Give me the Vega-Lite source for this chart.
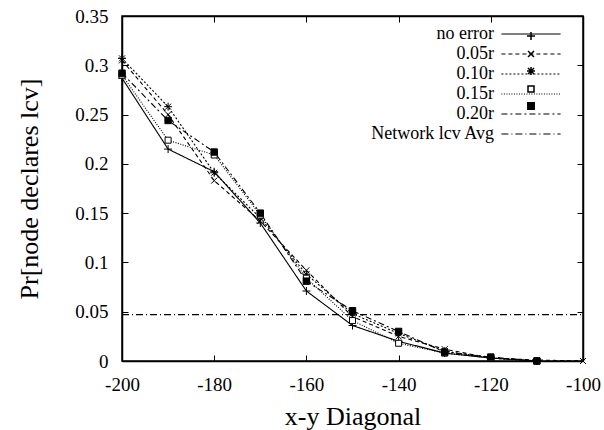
{
  "$schema": "https://vega.github.io/schema/vega-lite/v6.json",
  "width": 461,
  "height": 345,
  "autosize": {"type": "none"},
  "padding": {"left": 122, "top": 16, "right": 21, "bottom": 69},
  "background": "white",
  "config": {
    "view": {"stroke": "black", "strokeWidth": 1.5},
    "font": "Liberation Serif, Times New Roman, Times, serif",
    "axis": {
      "grid": false,
      "domainColor": "black",
      "domainWidth": 1.5,
      "tickColor": "black",
      "tickWidth": 1,
      "labelColor": "black",
      "labelFont": "Liberation Serif, Times New Roman, Times, serif",
      "labelFontSize": 19,
      "labelFlush": false,
      "titleFont": "Liberation Serif, Times New Roman, Times, serif",
      "titleFontSize": 26,
      "titleFontWeight": "normal",
      "titleColor": "black"
    }
  },
  "data": {
    "values": [
      {"x": -200, "y": 0.287, "s": "no error"},
      {"x": -190, "y": 0.215, "s": "no error"},
      {"x": -180, "y": 0.192, "s": "no error"},
      {"x": -170, "y": 0.140, "s": "no error"},
      {"x": -160, "y": 0.071, "s": "no error"},
      {"x": -150, "y": 0.036, "s": "no error"},
      {"x": -140, "y": 0.020, "s": "no error"},
      {"x": -130, "y": 0.008, "s": "no error"},
      {"x": -120, "y": 0.003, "s": "no error"},
      {"x": -110, "y": 0.000, "s": "no error"},
      {"x": -200, "y": 0.305, "s": "0.05r"},
      {"x": -190, "y": 0.250, "s": "0.05r"},
      {"x": -180, "y": 0.183, "s": "0.05r"},
      {"x": -170, "y": 0.142, "s": "0.05r"},
      {"x": -160, "y": 0.092, "s": "0.05r"},
      {"x": -150, "y": 0.045, "s": "0.05r"},
      {"x": -140, "y": 0.025, "s": "0.05r"},
      {"x": -130, "y": 0.012, "s": "0.05r"},
      {"x": -120, "y": 0.003, "s": "0.05r"},
      {"x": -110, "y": 0.001, "s": "0.05r"},
      {"x": -100, "y": 0.000, "s": "0.05r"},
      {"x": -200, "y": 0.307, "s": "0.10r"},
      {"x": -190, "y": 0.258, "s": "0.10r"},
      {"x": -180, "y": 0.191, "s": "0.10r"},
      {"x": -170, "y": 0.145, "s": "0.10r"},
      {"x": -160, "y": 0.088, "s": "0.10r"},
      {"x": -150, "y": 0.048, "s": "0.10r"},
      {"x": -140, "y": 0.028, "s": "0.10r"},
      {"x": -130, "y": 0.010, "s": "0.10r"},
      {"x": -120, "y": 0.003, "s": "0.10r"},
      {"x": -110, "y": 0.000, "s": "0.10r"},
      {"x": -200, "y": 0.290, "s": "0.15r"},
      {"x": -190, "y": 0.224, "s": "0.15r"},
      {"x": -180, "y": 0.209, "s": "0.15r"},
      {"x": -170, "y": 0.148, "s": "0.15r"},
      {"x": -160, "y": 0.084, "s": "0.15r"},
      {"x": -150, "y": 0.041, "s": "0.15r"},
      {"x": -140, "y": 0.018, "s": "0.15r"},
      {"x": -130, "y": 0.008, "s": "0.15r"},
      {"x": -120, "y": 0.003, "s": "0.15r"},
      {"x": -110, "y": 0.000, "s": "0.15r"},
      {"x": -200, "y": 0.292, "s": "0.20r"},
      {"x": -190, "y": 0.244, "s": "0.20r"},
      {"x": -180, "y": 0.212, "s": "0.20r"},
      {"x": -170, "y": 0.150, "s": "0.20r"},
      {"x": -160, "y": 0.081, "s": "0.20r"},
      {"x": -150, "y": 0.051, "s": "0.20r"},
      {"x": -140, "y": 0.030, "s": "0.20r"},
      {"x": -130, "y": 0.009, "s": "0.20r"},
      {"x": -120, "y": 0.004, "s": "0.20r"},
      {"x": -110, "y": 0.000, "s": "0.20r"},
      {"x": -200, "y": 0.047, "s": "Network lcv Avg"},
      {"x": -100, "y": 0.047, "s": "Network lcv Avg"}
    ]
  },
  "resolve": {"axis": {"x": "independent", "y": "independent"}},
  "layer": [
    {
      "mark": {"type": "line", "color": "black", "strokeWidth": 1.1},
      "encoding": {
        "x": {
          "field": "x", "type": "quantitative",
          "scale": {"domain": [-200, -100], "nice": false},
          "axis": {"values": [-200, -180, -160, -140, -120, -100], "labelExpr": "'' + datum.value", "title": "x-y Diagonal", "tickSize": -6, "labelPadding": 20, "titlePadding": 9}
        },
        "y": {
          "field": "y", "type": "quantitative",
          "scale": {"domain": [0, 0.35], "nice": false, "zero": false},
          "axis": {"values": [0, 0.05, 0.1, 0.15, 0.2, 0.25, 0.3, 0.35], "format": ".2~f", "title": "Pr[node declares lcv]", "tickSize": -6, "labelPadding": 20, "titlePadding": 32}
        },
        "detail": {"field": "s"},
        "strokeDash": {
          "field": "s", "type": "nominal",
          "scale": {
            "domain": ["no error", "0.05r", "0.10r", "0.15r", "0.20r", "Network lcv Avg"],
            "range": [[1, 0], [4, 3], [2, 2], [1, 1.5], [6, 3, 2, 3], [7, 3, 1, 3]]
          },
          "legend": {
            "orient": "none", "legendX": 400, "legendY": 9, "title": null,
            "symbolType": "M-3.7,0H3.7", "symbolSize": 256,
            "symbolStrokeColor": "black", "symbolStrokeWidth": 1.1,
            "labelAlign": "right", "labelOffset": -46,
            "labelFont": "Liberation Serif, Times New Roman, Times, serif", "labelFontSize": 18, "labelColor": "black",
            "rowPadding": 2, "padding": 0
          }
        }
      }
    },
    {
      "transform": [{"filter": "datum.s != 'Network lcv Avg'"}],
      "mark": {"type": "point", "stroke": "black", "strokeWidth": 1, "size": 400, "opacity": 1},
      "encoding": {
        "x": {
          "field": "x", "type": "quantitative",
          "axis": {"orient": "top", "values": [-200, -180, -160, -140, -120, -100], "labels": false, "title": null, "tickSize": -6}
        },
        "y": {
          "field": "y", "type": "quantitative",
          "axis": {"orient": "right", "values": [0, 0.05, 0.1, 0.15, 0.2, 0.25, 0.3, 0.35], "labels": false, "title": null, "tickSize": -6}
        },
        "shape": {
          "field": "s", "type": "nominal",
          "scale": {
            "domain": ["no error", "0.05r", "0.10r", "0.15r", "0.20r"],
            "range": ["M-0.4,0H0.4M0,-0.4V0.4", "M-0.3,-0.3L0.3,0.3M-0.3,0.3L0.3,-0.3", "M-0.4,0H0.4M0,-0.4V0.4M-0.3,-0.3L0.3,0.3M-0.3,0.3L0.3,-0.3", "M-0.3,-0.3H0.3V0.3H-0.3Z", "M-0.32,-0.32H0.32V0.32H-0.32Z"]
          },
          "legend": {
            "orient": "none", "legendX": 398, "legendY": 9, "title": null,
            "symbolSize": 400, "labelExpr": "''",
            "rowPadding": 0, "padding": 0,
            "encode": {"symbols": {"update": {"stroke": {"value": "black"}, "strokeWidth": {"value": 1}, "opacity": {"value": 1}}}}
          }
        },
        "fill": {
          "field": "s", "type": "nominal",
          "scale": {
            "domain": ["no error", "0.05r", "0.10r", "0.15r", "0.20r"],
            "range": ["transparent", "transparent", "black", "white", "black"]
          },
          "legend": {
            "orient": "none", "legendX": 398, "legendY": 9, "title": null,
            "symbolSize": 400, "labelExpr": "''",
            "rowPadding": 0, "padding": 0,
            "encode": {"symbols": {"update": {"stroke": {"value": "black"}, "strokeWidth": {"value": 1}, "opacity": {"value": 1}}}}
          }
        }
      }
    }
  ]
}
